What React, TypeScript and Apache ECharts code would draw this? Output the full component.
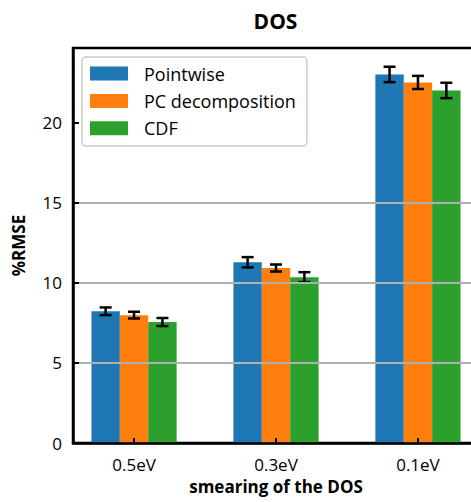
import React, { useEffect, useRef } from "react";
import * as echarts from "echarts";

const categories = ["0.5eV", "0.3eV", "0.1eV"];
const methods = ["Pointwise", "PC decomposition", "CDF"];
const colors = ["#1f77b4", "#ff7f0e", "#2ca02c"];
const pointwiseValues = [8.22, 11.28, 23.0];
const pointwiseErrors = [0.24, 0.32, 0.48];
const pcValues = [7.98, 10.92, 22.5];
const pcErrors = [0.21, 0.22, 0.41];
const cdfValues = [7.55, 10.35, 22.0];
const cdfErrors = [0.25, 0.31, 0.48];
const yTicks = [0, 5, 10, 15, 20];

const FONT = "'Open Sans', 'DejaVu Sans', sans-serif";

export default function App() {
  const ref = useRef<HTMLDivElement>(null);
  useEffect(() => {
    if (!ref.current) return;
    const chart = echarts.init(ref.current, undefined, { renderer: "svg" });
    const values = [pointwiseValues, pcValues, cdfValues];
    const errors = [pointwiseErrors, pcErrors, cdfErrors];
    const barW = 0.2;
    const series = methods.map((name, k) => ({
      name,
      type: "custom",
      z: 2,
      itemStyle: { color: colors[k] },
      data: categories.map((_, i) => [i, values[k][i], errors[k][i]]),
      renderItem: (params: any, api: any) => {
        const x = api.value(0) + (k - 1) * barW;
        const v = api.value(1);
        const e = api.value(2);
        const tl = api.coord([x - barW / 2, v]);
        const br = api.coord([x + barW / 2, 0]);
        const c = api.coord([x, v]);
        const top = api.coord([x, v + e]);
        const bot = api.coord([x, v - e]);
        const cap = 6;
        const lw = 2.5;
        return {
          type: "group",
          children: [
            {
              type: "rect",
              shape: { x: tl[0], y: tl[1], width: br[0] - tl[0], height: br[1] - tl[1] },
              style: { fill: colors[k] },
            },
            {
              type: "line",
              shape: { x1: c[0], y1: top[1], x2: c[0], y2: bot[1] },
              style: { stroke: "#000", lineWidth: lw },
            },
            {
              type: "line",
              shape: { x1: c[0] - cap, y1: top[1], x2: c[0] + cap, y2: top[1] },
              style: { stroke: "#000", lineWidth: lw },
            },
            {
              type: "line",
              shape: { x1: c[0] - cap, y1: bot[1], x2: c[0] + cap, y2: bot[1] },
              style: { stroke: "#000", lineWidth: lw },
            },
          ],
        };
      },
    }));

    chart.setOption({
      animation: false,
      textStyle: { fontFamily: FONT },
      grid: {
        left: 73,
        right: 0,
        top: 48,
        bottom: 59,
        show: true,
        borderColor: "#000",
        borderWidth: 2.5,
        backgroundColor: "transparent",
      },
      graphic: [
        {
          type: "text",
          x: 275.5,
          y: 20.5,
          style: {
            text: "DOS",
            align: "center",
            verticalAlign: "middle",
            font: `bold 21px ${FONT}`,
            fill: "#000",
          },
        },
      ],
      legend: {
        orient: "vertical",
        left: 82,
        top: 57,
        itemWidth: 38,
        itemHeight: 14,
        itemGap: 9.4,
        icon: "rect",
        padding: [7.5, 11, 8.8, 8],
        backgroundColor: "rgba(255,255,255,0.8)",
        borderColor: "#cccccc",
        borderWidth: 1.5,
        borderRadius: 4,
        textStyle: {
          fontSize: 18,
          color: "#000",
          fontFamily: FONT,
          padding: [0, 0, 0, 11],
        },
        data: methods,
      },
      xAxis: {
        type: "value",
        min: -0.43,
        max: 2.43,
        z: 5,
        name: "smearing of the DOS",
        nameLocation: "middle",
        nameGap: 35,
        nameTextStyle: { fontSize: 17, fontWeight: "bold", color: "#000", fontFamily: FONT },
        axisLine: { show: true, onZero: false, lineStyle: { color: "#000", width: 2.5 } },
        axisTick: {
          show: true,
          inside: true,
          length: 5,
          lineStyle: { color: "#000", width: 2 },
          customValues: [0, 1, 2],
        },
        axisLabel: {
          fontSize: 17,
          color: "#000",
          margin: 13,
          fontFamily: FONT,
          customValues: [0, 1, 2],
          formatter: (v: number) => categories[Math.round(v)] ?? "",
        },
        splitLine: { show: false },
      },
      yAxis: {
        type: "value",
        min: 0,
        max: 24.65,
        interval: 5,
        z: 5,
        name: "%RMSE",
        nameLocation: "middle",
        nameGap: 46,
        nameTextStyle: { fontSize: 17, fontWeight: "bold", color: "#000", fontFamily: FONT },
        axisLine: { show: true, onZero: false, lineStyle: { color: "#000", width: 2.5 } },
        axisTick: {
          show: true,
          inside: true,
          length: 6,
          lineStyle: { color: "#000", width: 2 },
          customValues: yTicks,
        },
        axisLabel: {
          fontSize: 17,
          color: "#000",
          margin: 11,
          fontFamily: FONT,
          customValues: yTicks,
        },
        splitLine: {
          show: true,
          showMinLine: false,
          showMaxLine: false,
          lineStyle: { color: "#b0b0b0", width: 2 },
        },
      },
      series,
    });
    return () => chart.dispose();
  }, []);
  return (
    <div
      style={{
        position: "fixed",
        left: 0,
        top: 0,
        width: 471,
        height: 502,
        overflow: "hidden",
        background: "#fff",
      }}
    >
      <div ref={ref} style={{ width: 479, height: 502 }} />
    </div>
  );
}
